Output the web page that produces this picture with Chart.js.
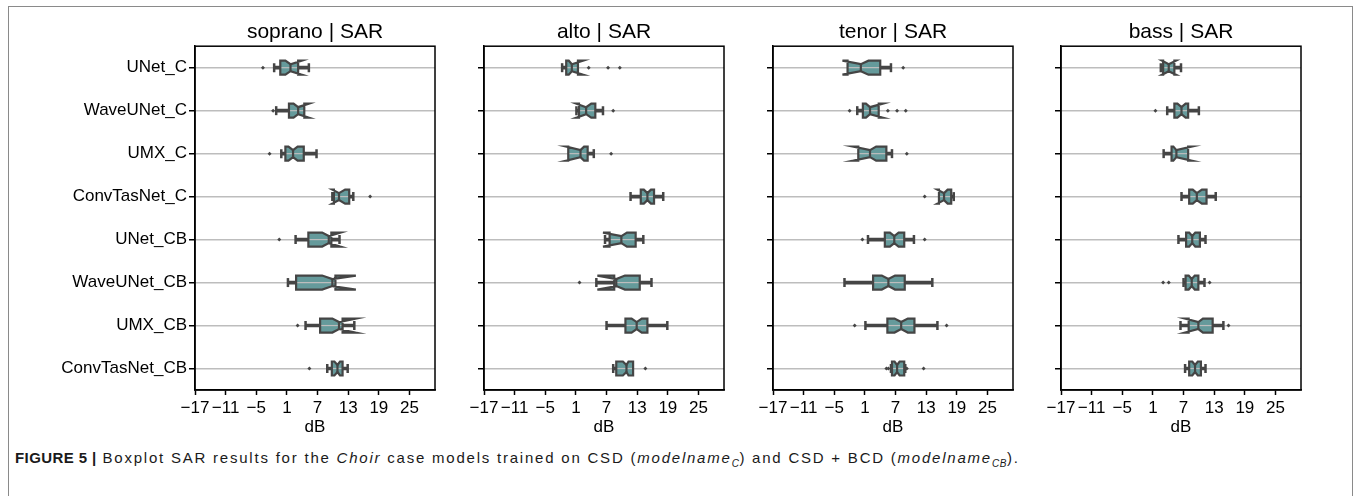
<!DOCTYPE html>
<html>
<head>
<meta charset="utf-8">
<script src="https://cdn.jsdelivr.net/npm/chart.js@4.4.0/dist/chart.umd.min.js"></script>
<style>
body{margin:0;background:#fff;width:1354px;height:496px;overflow:hidden;position:relative;font-family:'Liberation Sans',Arial,sans-serif;}
.frame{position:absolute;left:8px;top:6px;width:1343px;height:540px;border:1px solid #8a8a8a;}
canvas{position:absolute;top:0;}
.caption{position:absolute;left:15px;top:449px;font-size:15px;white-space:nowrap;color:#1a1a1a;letter-spacing:1.78px;}
.caption b{letter-spacing:0.4px;}
.caption sub{font-size:10px;letter-spacing:0.5px;}
</style>
</head>
<body>
<div class="frame"></div>
<canvas id="c0"></canvas>
<canvas id="c1"></canvas>
<canvas id="c2"></canvas>
<canvas id="c3"></canvas>
<div class="caption"><b>FIGURE 5 |</b> Boxplot SAR results for the <i>Choir</i> case models trained on CSD (<i>modelname<sub>C</sub></i>) and CSD + BCD (<i>modelname<sub>CB</sub></i>).</div>
<script>
const models = ['UNet_C', 'WaveUNet_C', 'UMX_C', 'ConvTasNet_C', 'UNet_CB', 'WaveUNet_CB', 'UMX_CB', 'ConvTasNet_CB'];
const xTicks = [-17, -11, -5, 1, 7, 13, 19, 25];

// each row: [whisker low, q1, notch low, median, notch high, q3, whisker high]
const sopranoBoxes = [
  [-1.5, -0.3, 0.7, 1.7, 3.9, 3.2, 5.3],
  [-1.1, 1.4, 2.3, 3.2, 5.3, 4.4, 4.4],
  [-0.1, 0.7, 1.3, 2.2, 3.1, 4.3, 6.8],
  [9.9, 10.2, 9.9, 11.2, 12.4, 13.2, 14.0],
  [2.7, 5.2, 7.9, 9.2, 11.5, 9.7, 11.3],
  [1.2, 2.8, 7.9, 9.9, 14.5, 10.5, 10.5],
  [4.65, 7.5, 9.9, 11.2, 14.5, 11.9, 14.2],
  [8.9, 9.8, 10.3, 10.9, 11.4, 11.9, 12.9]
];
const sopranoFliers = [[-3.7], [-1.7], [-2.4], [17.3], [-0.5], [], [3.1], [5.4]];

const altoBoxes = [
  [-1.7, -0.9, -0.4, 0.2, 2.4, 1.4, 1.4],
  [1.1, 1.6, 1.1, 3.0, 4.0, 4.8, 6.3],
  [-0.5, -0.5, -0.9, 1.9, 2.6, 3.3, 4.5],
  [11.7, 13.7, 14.3, 15.0, 15.7, 16.3, 18.1],
  [6.7, 7.6, 6.3, 9.9, 11.0, 12.7, 14.2],
  [5.0, 8.5, 5.2, 8.9, 10.6, 13.5, 15.8],
  [7.0, 10.7, 11.9, 12.9, 13.9, 15.0, 18.9],
  [8.3, 8.9, 10.2, 10.9, 11.3, 12.2, 12.2]
];
const altoFliers = [[3.5, 7.3, 9.6], [8.3], [7.9], [], [], [1.7], [], [14.6]];

const tenorBoxes = [
  [-2.4, -2.4, -3.4, 0.2, 1.7, 4.0, 6.1],
  [-0.5, 0.6, 1.2, 2.0, 4.5, 3.7, 3.7],
  [-0.3, -0.3, -1.3, 2.0, 3.2, 5.2, 6.3],
  [15.5, 15.5, 15.2, 16.5, 17.2, 17.9, 18.4],
  [1.6, 4.9, 5.9, 6.75, 7.6, 8.7, 10.6],
  [-3.0, 2.6, 4.3, 5.6, 6.9, 8.8, 14.2],
  [1.1, 5.4, 6.8, 8.1, 9.4, 10.7, 15.2],
  [6.1, 6.3, 6.8, 7.3, 7.8, 8.7, 8.9]
];
const tenorFliers = [[8.5], [-2.0, 5.5, 7.3, 9.0], [9.2], [12.7], [0.5, 12.7], [], [-1.0, 17.0], [5.2, 5.6, 9.2, 12.5]];

const bassBoxes = [
  [2.55, 3.0, 2.8, 4.1, 5.5, 5.2, 6.5],
  [3.8, 5.2, 5.8, 6.6, 7.4, 7.9, 10.0],
  [3.1, 4.65, 5.0, 5.6, 8.6, 7.9, 7.9],
  [6.6, 8.1, 8.8, 9.6, 10.6, 11.5, 13.3],
  [6.0, 7.5, 8.1, 8.7, 9.3, 10.2, 11.3],
  [7.0, 7.4, 8.0, 8.6, 9.2, 9.9, 11.1],
  [6.4, 8.0, 7.3, 9.9, 10.8, 12.7, 14.8],
  [7.3, 8.1, 8.7, 9.25, 9.8, 10.4, 11.3]
];
const bassFliers = [[], [1.5], [], [], [], [3.0, 4.1, 12.1], [15.8], []];

const boxFill = '#659a9b';
const edge = '#454545';
const gridGrey = '#bdbdbd';

Chart.defaults.font.family = "'Liberation Sans', Arial, sans-serif";
Chart.defaults.color = '#000';

// draws the notched boxes and caps on top of the whisker bars
const notchedBoxes = {
  id: 'notchedBoxes',
  afterDatasetsDraw(chart, args, opts) {
    const {ctx, chartArea, scales: {x, y}} = chart;
    const h = 7, hn = 3.5, cap = 4.5;
    ctx.save();
    opts.boxes.forEach((b, i) => {
      const c = y.getPixelForValue(i);
      const [wlo, q1, nlo, med, nhi, q3, whi] = b.map(v => x.getPixelForValue(v));
      ctx.strokeStyle = edge;
      ctx.lineWidth = 2.5;
      ctx.beginPath();
      if (b[0] < b[1]) { ctx.moveTo(wlo, c - cap); ctx.lineTo(wlo, c + cap); }
      if (b[6] > b[5]) { ctx.moveTo(whi, c - cap); ctx.lineTo(whi, c + cap); }
      ctx.stroke();
      const outline = () => {
        ctx.beginPath();
        ctx.moveTo(q1, c - h); ctx.lineTo(nlo, c - h); ctx.lineTo(med, c - hn);
        ctx.lineTo(nhi, c - h); ctx.lineTo(q3, c - h); ctx.lineTo(q3, c + h);
        ctx.lineTo(nhi, c + h); ctx.lineTo(med, c + hn); ctx.lineTo(nlo, c + h);
        ctx.lineTo(q1, c + h); ctx.closePath();
      };
      outline();
      ctx.fillStyle = boxFill;
      ctx.fill();
      ctx.strokeStyle = gridGrey;
      ctx.lineWidth = 1.2;
      ctx.beginPath(); ctx.moveTo(q1, c); ctx.lineTo(q3, c); ctx.stroke();
      ctx.strokeStyle = edge;
      ctx.lineWidth = 2.2;
      outline();
      ctx.stroke();
      ctx.beginPath(); ctx.moveTo(med, c - hn); ctx.lineTo(med, c + hn); ctx.stroke();
    });
    ctx.strokeStyle = '#000';
    ctx.lineWidth = 1.5;
    ctx.strokeRect(chartArea.left, chartArea.top, chartArea.width, chartArea.height);
    ctx.restore();
  }
};

function makeChart(id, voice, boxes, fliers, labelled, plotLeft) {
  const axisW = labelled ? plotLeft : 20;
  const canvas = document.getElementById(id);
  canvas.style.left = (plotLeft - axisW) + 'px';
  canvas.width = axisW + 250;
  canvas.height = 440;
  const points = [];
  fliers.forEach((row, i) => row.forEach(v => points.push({x: v, y: models[i]})));
  new Chart(canvas, {
    type: 'bar',
    data: {
      labels: models,
      datasets: [
        {type: 'bar', data: boxes.map(b => [b[0], b[6]]), backgroundColor: edge, barThickness: 3},
        {type: 'scatter', data: points, pointStyle: 'rectRot', pointRadius: 2, backgroundColor: edge, borderWidth: 0}
      ]
    },
    options: {
      indexAxis: 'y',
      responsive: false,
      animation: false,
      layout: {padding: {right: 10}},
      plugins: {
        legend: {display: false},
        tooltip: {enabled: false},
        title: {display: true, text: voice + ' | SAR', fullSize: false, color: '#000', font: {size: 21, weight: 'normal'}, padding: {top: 20, bottom: 1}},
        notchedBoxes: {boxes: boxes}
      },
      scales: {
        x: {
          type: 'linear', min: -17, max: 30,
          afterBuildTicks: s => { s.ticks = xTicks.map(v => ({value: v})); },
          afterFit: s => { s.height = 50; },
          ticks: {autoSkip: false, maxRotation: 0, padding: 3, color: '#000', font: {size: 17},
            callback: v => v < 0 ? '\u2212' + Math.abs(v) : String(v)},
          grid: {drawOnChartArea: false, tickLength: 5, tickColor: '#000', tickWidth: 1.5},
          border: {color: '#000', width: 1.5},
          title: {display: true, text: 'dB', color: '#000', font: {size: 17}, padding: {top: 0, bottom: 2}}
        },
        y: {
          type: 'category', labels: models, offset: true,
          afterFit: s => { s.width = axisW; },
          ticks: labelled ? {color: '#000', font: {size: 17}, padding: 2} : {padding: 0, callback: () => ''},
          grid: {offset: false, color: gridGrey, lineWidth: 1.5, tickColor: '#000', tickLength: 6, tickWidth: 1.5},
          border: {color: '#000', width: 1.5}
        }
      }
    },
    plugins: [notchedBoxes]
  });
}

makeChart('c0', 'soprano', sopranoBoxes, sopranoFliers, true, 195);
makeChart('c1', 'alto', altoBoxes, altoFliers, false, 484);
makeChart('c2', 'tenor', tenorBoxes, tenorFliers, false, 773);
makeChart('c3', 'bass', bassBoxes, bassFliers, false, 1061);
</script>
</body>
</html>
